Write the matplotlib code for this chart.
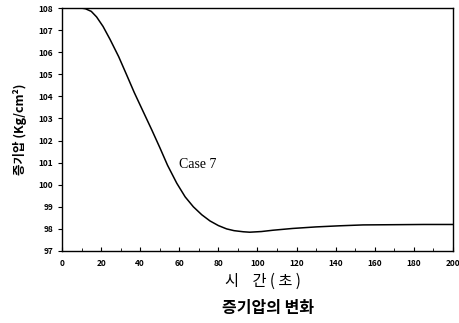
import matplotlib
matplotlib.use("Agg")
import matplotlib.pyplot as plt
import numpy as np

plt.rcParams['font.family'] = ['Noto Sans CJK KR', 'DejaVu Sans']

time_s = [0, 5, 10, 12, 15, 17.7, 21, 24.6, 29, 33.1, 37, 41.6, 46, 50.1, 54, 58.7, 63, 67.2, 71.5, 75.7, 80, 84.2, 88, 92.7, 96, 102, 108, 118, 130, 142, 154, 170, 185, 200]
pressure = [108, 108, 108, 107.97, 107.85, 107.6, 107.17, 106.58, 105.8, 104.97, 104.17, 103.3, 102.47, 101.67, 100.88, 100.07, 99.45, 99.0, 98.64, 98.36, 98.15, 98.0, 97.92, 97.87, 97.85, 97.88, 97.94, 98.02, 98.09, 98.14, 98.18, 98.19, 98.2, 98.2]

x_ticks = [0, 20, 40, 60, 80, 100, 120, 140, 160, 180, 200]
y_ticks = list(range(97, 109))

fig = plt.figure(figsize=(4.59, 3.23), dpi=100)
ax = fig.add_axes([0.135, 0.223, 0.852, 0.752])
ax.plot(time_s, pressure, color='black', lw=1.1)
ax.set_xlim(0, 200)
ax.set_ylim(97, 108)
ax.set_xticks(x_ticks)
ax.set_xticks(range(0, 201, 10), minor=True)
ax.set_yticks(y_ticks)
ax.tick_params(axis='x', direction='in', length=3, labelsize=6, pad=6)
ax.tick_params(axis='x', which='minor', direction='in', length=2)
ax.tick_params(axis='y', direction='out', length=3, labelsize=6)
for lab in ax.get_xticklabels() + ax.get_yticklabels():
    lab.set_fontweight('bold')
for s in ax.spines.values():
    s.set_linewidth(1.0)
ax.set_ylabel('증기압 (Kg/cm²)', fontsize=9, fontweight='bold', labelpad=8)
ax.text(60, 100.9, 'Case 7', fontsize=10, family='Liberation Serif', va='center', ha='left')
fig.text(0.573, 0.128, '시    간 ( 초 )', fontsize=11, ha='center', va='center')
fig.text(0.584, 0.046, '증기압의 변화', fontsize=11.5, fontweight='bold', ha='center', va='center')
fig.savefig('out.png', dpi=100)
